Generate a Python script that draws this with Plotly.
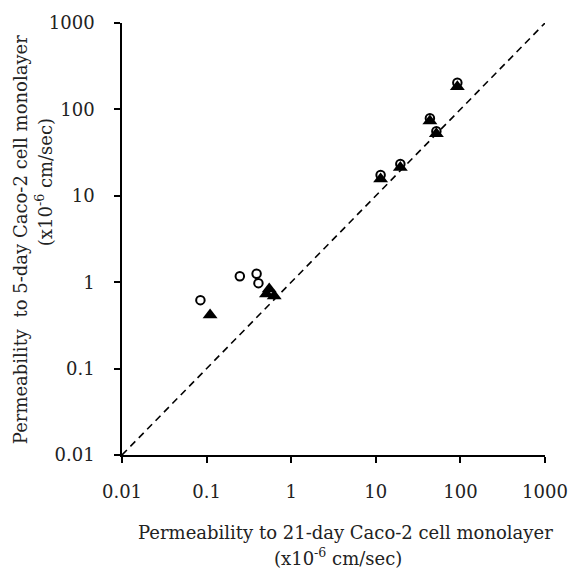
import plotly.graph_objects as go

# Permeability (x10^-6 cm/sec): 21-day monolayer (x) vs 5-day monolayer (y)
circle_x = [0.0845, 0.247, 0.39, 0.41, 11.4, 19.5, 43.6, 52.0, 92.0]
circle_y = [0.62, 1.17, 1.25, 0.975, 17.4, 23.3, 78.9, 55.8, 204.0]

triangle_x = [0.11, 0.51, 0.55, 0.63, 11.4, 19.5, 43.6, 52.0, 92.0]
triangle_y = [0.418, 0.73, 0.835, 0.69, 15.6, 21.3, 73.5, 52.2, 183.0]

identity_line = [0.01, 1000]

tick_vals = [0.01, 0.1, 1, 10, 100, 1000]
tick_text = ["0.01", "0.1", "1", "10", "100", "1000"]

FONT = "DejaVu Serif"

fig = go.Figure()

fig.add_trace(go.Scatter(
    x=identity_line, y=identity_line, mode="lines",
    line=dict(color="black", width=1.6, dash="7px,5px"),
    hoverinfo="skip", showlegend=False,
))

fig.add_trace(go.Scatter(
    x=circle_x, y=circle_y, mode="markers",
    marker=dict(symbol="circle", size=8.5, color="white",
                line=dict(color="black", width=2)),
    showlegend=False,
))

fig.add_trace(go.Scatter(
    x=triangle_x, y=triangle_y, mode="markers",
    marker=dict(symbol="triangle-up", size=13, color="black",
                line=dict(color="black", width=0)),
    showlegend=False,
))

axis_common = dict(
    type="log", showgrid=False, zeroline=False,
    showline=True, linecolor="black", linewidth=1.5,
    ticks="outside", ticklen=6, tickwidth=1.5, tickcolor="black",
    tickvals=tick_vals, ticktext=tick_text,
    tickfont=dict(family=FONT, size=18, color="#222"),
)

fig.update_layout(
    width=580, height=572,
    margin=dict(l=122, r=28, t=20, b=117),
    paper_bgcolor="white", plot_bgcolor="white",
    xaxis=dict(range=[-2, 3], ticklabelstandoff=14, **axis_common),
    yaxis=dict(range=[-2, 3], ticklabelstandoff=16, **axis_common),
    font=dict(family=FONT, color="#222"),
)

title_font = dict(family=FONT, size=18, color="#222")

# x-axis title (two lines)
fig.add_annotation(
    text="Permeability to 21-day Caco-2 cell monolayer",
    xref="paper", yref="paper", x=(349 - 122) / 430, y=-(533 - 455) / 435,
    showarrow=False, font=title_font, xanchor="center", yanchor="middle",
)
fig.add_annotation(
    text="(x10<sup>-6</sup> cm/sec)",
    xref="paper", yref="paper", x=(342 - 122) / 430, y=-(558 - 455) / 435,
    showarrow=False, font=title_font, xanchor="center", yanchor="middle",
)

# y-axis title (two lines, rotated)
fig.add_annotation(
    text="Permeability\u00a0\u00a0to 5-day Caco-2 cell monolayer",
    xref="paper", yref="paper", x=-(122 - 19) / 430, y=(455 - 238) / 435,
    showarrow=False, font=title_font, textangle=-90,
    xanchor="center", yanchor="middle",
)
fig.add_annotation(
    text="(x10<sup>-6</sup> cm/sec)",
    xref="paper", yref="paper", x=-(122 - 43) / 430, y=(455 - 180) / 435,
    showarrow=False, font=title_font, textangle=-90,
    xanchor="center", yanchor="middle",
)

fig.write_html("out.html")
